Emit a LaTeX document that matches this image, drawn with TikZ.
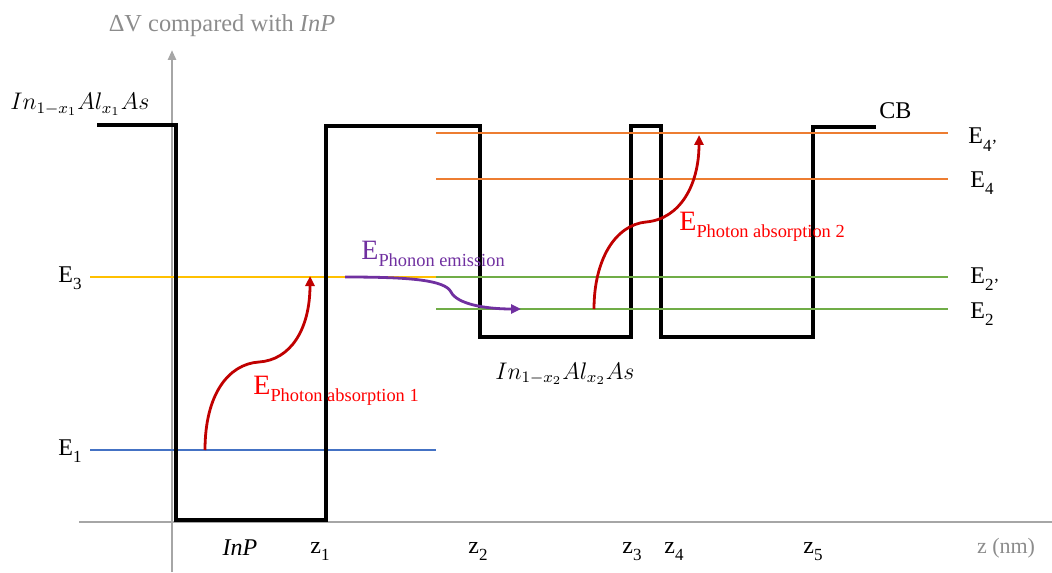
\documentclass[tikz,border=0pt]{standalone}
\usepackage{fontspec}
\setmainfont{Liberation Serif}
\usetikzlibrary{arrows.meta}
\definecolor{axgray}{HTML}{A6A6A6}
\definecolor{txgray}{HTML}{8C8C8C}
\definecolor{lvyellow}{HTML}{FFC000}
\definecolor{lvblue}{HTML}{4472C4}
\definecolor{lvgreen}{HTML}{70AD47}
\definecolor{lvorange}{HTML}{ED7D31}
\definecolor{arred}{HTML}{C00000}
\definecolor{txred}{HTML}{FF0000}
\definecolor{arpurple}{HTML}{7030A0}
\newcommand{\enlab}[1]{E\raisebox{-0.32em}{\fontsize{8.5}{8.5}\selectfont #1}}
\newcommand{\enbig}[1]{{\fontsize{14}{14}\selectfont E}\raisebox{-0.3em}{\fontsize{9.2}{9.2}\selectfont #1}}
\begin{document}
\begin{tikzpicture}[x=0.5pt,y=-0.5pt,
  axisline/.style={draw=axgray,line width=1.3pt},
  band/.style={draw=black,line width=1.6pt,line join=miter},
  level/.style={line width=1.2pt},
  redarrow/.style={draw=arred,line width=1.4pt,-{Triangle[length=5pt,width=4.5pt]}},
  purplearrow/.style={draw=arpurple,line width=1.4pt,-{Triangle[length=5pt,width=4.5pt]}},
  lab/.style={inner sep=0pt,font=\fontsize{12}{12}\selectfont},
  axlab/.style={inner sep=0pt,font=\fontsize{12.2}{12.2}\selectfont,text=txgray}]
\useasboundingbox (0,0) rectangle (1052,572);
% axes
\draw[axisline] (79,522) -- (1052,522);
\draw[axisline,-{Triangle[length=5pt,width=4pt]}] (172,572) -- (172,50);
% left energy levels
\draw[level,lvyellow] (90,277) -- (436,277);
\draw[level,lvblue] (90,450) -- (436,450);
% conduction band profile
\draw[band] (97,125) -- (176,125) -- (176,520) -- (326,520) -- (326,126) -- (480,126) -- (480,337) -- (631,337) -- (631,126) -- (661,126) -- (661,337) -- (813,337) -- (813,127) -- (876,127);
% right energy levels
\draw[level,lvgreen] (436,277) -- (948,277);
\draw[level,lvgreen] (436,309) -- (948,309);
\draw[level,lvorange] (436,179) -- (948,179);
\draw[level,lvorange] (436,133) -- (948,133);
% transitions
\coordinate (a1s) at (205,450);
\coordinate (a1m) at (259,362);
\coordinate (a1e) at (310,276);
\draw[redarrow] (a1s) .. controls (205,395) and (228,364) .. (a1m) .. controls (290,360) and (310,330) .. (a1e);
\coordinate (a2s) at (594,309);
\coordinate (a2m) at (646,222);
\coordinate (a2e) at (699,135);
\draw[redarrow] (a2s) .. controls (594,260) and (615,225) .. (a2m) .. controls (680,219) and (699,185) .. (a2e);
\coordinate (ps) at (345,277);
\coordinate (pm) at (451,292);
\coordinate (pe) at (521,309);
\draw[purplearrow] (ps) .. controls (410,277) and (445,280) .. (pm) .. controls (457,304) and (485,309) .. (pe);
% labels
\node[axlab,anchor=base] (yl) at (222,32) {ΔV compared with \textit{InP}};
\node[lab,anchor=base west] (m1) at (10,110) {$In_{1-x_1}Al_{x_1}As$};
\node[lab,anchor=base west] (m2) at (495,379) {$In_{1-x_2}Al_{x_2}As$};
\node[lab,anchor=base west] (cb) at (879,119) {CB};
\node[lab,anchor=base west] (e4p) at (968,144) {\enlab{4’}};
\node[lab,anchor=base west] (e4) at (970,187) {\enlab{4}};
\node[lab,anchor=base west] (e2p) at (970,283) {\enlab{2’}};
\node[lab,anchor=base west] (e2) at (970,318) {\enlab{2}};
\node[lab,anchor=base west] (e3) at (58,282) {\enlab{3}};
\node[lab,anchor=base west] (e1) at (58,455) {\enlab{1}};
\node[lab,anchor=base west,text=txred] (pa1) at (253,394) {\enbig{Photon absorption 1}};
\node[lab,anchor=base west,text=txred] (pa2) at (679,230) {\enbig{Photon absorption 2}};
\node[lab,anchor=base west,text=arpurple] (pe1) at (361,259) {\enbig{Phonon emission}};
\node[lab,anchor=base] (inp) at (240,555) {\textit{InP}};
\node[lab,anchor=base] (z1) at (320,553) {z\raisebox{-0.32em}{\fontsize{8.5}{8.5}\selectfont 1}};
\node[lab,anchor=base] (z2) at (478,553) {z\raisebox{-0.32em}{\fontsize{8.5}{8.5}\selectfont 2}};
\node[lab,anchor=base] (z3) at (632,553) {z\raisebox{-0.32em}{\fontsize{8.5}{8.5}\selectfont 3}};
\node[lab,anchor=base] (z4) at (674,553) {z\raisebox{-0.32em}{\fontsize{8.5}{8.5}\selectfont 4}};
\node[lab,anchor=base] (z5) at (813,553) {z\raisebox{-0.32em}{\fontsize{8.5}{8.5}\selectfont 5}};
\node[axlab,anchor=base,font=\fontsize{11}{11}\selectfont] (zn) at (1006,553) {z (nm)};
\end{tikzpicture}
\end{document}
